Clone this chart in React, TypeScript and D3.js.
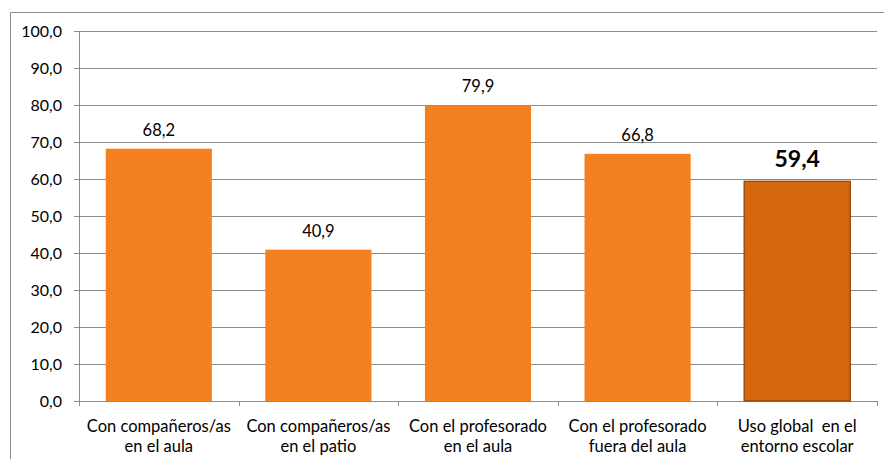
import React from "react";
import * as d3 from "d3";

const categories: string[][] = [
  ["Con compañeros/as", "en el aula"],
  ["Con compañeros/as", "en el patio"],
  ["Con el profesorado", "en el aula"],
  ["Con el profesorado", "fuera del aula"],
  ["Uso global  en el", "entorno escolar"],
];
const values: number[] = [68.2, 40.9, 79.9, 66.8, 59.4];
const yTicks: number[] = [0, 10, 20, 30, 40, 50, 60, 70, 80, 90, 100];

const W = 884;
const H = 459;
const left = 79;
const right = 877;
const top = 31;
const bottom = 401;
const font = "Lato, 'Open Sans', sans-serif";

export default function App() {
  const x = d3
    .scaleBand<number>()
    .domain(d3.range(values.length))
    .range([left, right])
    .paddingInner(0.335)
    .paddingOuter(0.1675);
  const y = d3.scaleLinear().domain([0, 100]).range([bottom, top]);
  const fmt = (v: number) => v.toFixed(1).replace(".", ",");
  const step = (right - left) / values.length;

  return (
    <svg
      width={W}
      height={H}
      style={{ position: "absolute", left: 0, top: 0, display: "block" }}
    >
      <rect x={0} y={0} width={W} height={H} fill="#fff" />
      <path d={`M10.5,${H} V12.5 H${W}`} fill="none" stroke="#8c8c8c" strokeWidth={1} />
      {yTicks.map((t) => (
        <g key={t}>
          <line
            x1={left - 5}
            x2={right}
            y1={Math.round(y(t)) + 0.5}
            y2={Math.round(y(t)) + 0.5}
            stroke="#8c8c8c"
            strokeWidth={1}
          />
          <text
            x={62}
            y={y(t) + 6}
            textAnchor="end"
            fontFamily={font}
            fontSize={16}
            fill="#000"
          >
            {fmt(t)}
          </text>
        </g>
      ))}
      <line x1={left + 0.5} x2={left + 0.5} y1={top} y2={bottom} stroke="#8c8c8c" />
      {d3.range(values.length + 1).map((i) => (
        <line
          key={i}
          x1={Math.round(left + i * step) + 0.5}
          x2={Math.round(left + i * step) + 0.5}
          y1={bottom}
          y2={bottom + 5}
          stroke="#8c8c8c"
        />
      ))}
      {values.map((v, i) => {
        const last = i === values.length - 1;
        const bx = x(i)!;
        return (
          <g key={i}>
            <rect
              x={bx}
              y={y(v)}
              width={x.bandwidth()}
              height={bottom - y(v)}
              fill={last ? "#D4660E" : "#F4801F"}
              stroke={last ? "#8A3F08" : "none"}
              strokeWidth={last ? 1.2 : 0}
            />
            <text
              x={bx + x.bandwidth() / 2}
              y={y(v) - (last ? 14 : 13)}
              textAnchor="middle"
              fontFamily={font}
              fontSize={last ? 23 : 16.5}
              fontWeight={last ? "bold" : "normal"}
              fill="#000"
            >
              {fmt(v)}
            </text>
            {categories[i].map((line, j) => (
              <text
                key={j}
                x={left + (i + 0.5) * step}
                y={432 + j * 20}
                textAnchor="middle"
                fontFamily={font}
                fontSize={16.5}
                fill="#000"
                style={{ whiteSpace: "pre" }}
              >
                {line}
              </text>
            ))}
          </g>
        );
      })}
    </svg>
  );
}
